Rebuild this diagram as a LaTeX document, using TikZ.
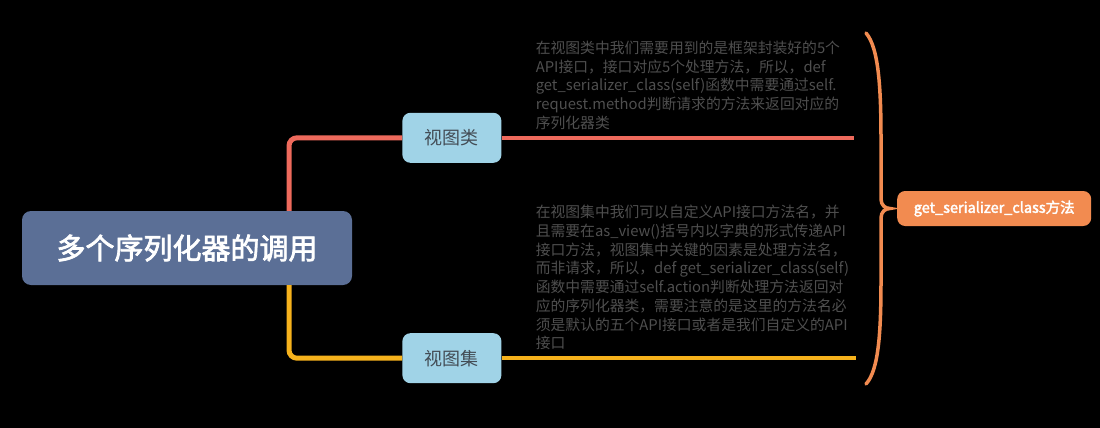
\documentclass[tikz,border=0pt]{standalone}
\usepackage{fontspec}
\setmainfont{Noto Sans CJK SC}[AutoFakeBold=2.5]
\usetikzlibrary{positioning}
\definecolor{rootblue}{HTML}{5B6F96}
\definecolor{leafblue}{HTML}{A0D3E7}
\definecolor{branchred}{HTML}{EE6A5C}
\definecolor{branchgold}{HTML}{F6B21C}
\definecolor{braceorange}{HTML}{F28B50}
\definecolor{notegray}{HTML}{4F4F4F}
\definecolor{topicgray}{HTML}{434C55}

\begin{document}
\begin{tikzpicture}[
x=1pt, y=-1pt,
root/.style={rectangle, rounded corners=9pt, fill=rootblue, text=white, font=\fontsize{29}{34}\selectfont\bfseries, minimum width=330pt, minimum height=74pt, inner sep=0pt},
topic/.style={rectangle, rounded corners=8pt, fill=leafblue, text=topicgray, font=\fontsize{18}{22}\selectfont, minimum width=99pt, minimum height=50pt, inner sep=0pt},
note/.style={align=left, text=notegray, inner sep=0pt, font=\fontsize{14.8}{18.7}\selectfont},
summary/.style={rectangle, rounded corners=8pt, fill=braceorange, text=white, font=\fontsize{14.5}{17}\selectfont\bfseries, minimum width=194pt, minimum height=35pt, inner sep=0pt},
redline/.style={branchred, line width=5pt, rounded corners=8pt},
goldline/.style={branchgold, line width=5pt, rounded corners=8pt},
bracket/.style={braceorange, line width=3.5pt, line cap=round}]

\useasboundingbox[fill=black] (0,0) rectangle (1100,428);

\node[root] (root) at (187,248) {多个序列化器的调用};
\node[topic] (cls) [above right=85pt and 50pt of root.east] {视图类};
\node[topic] (set) [below right=85pt and 50pt of root.east] {视图集};

\coordinate[right=352pt of cls.east] (e1);
\coordinate[right=354pt of set.east] (e2);

\node[note] (clsnote) [above right=8pt and 34pt of cls.east] {在视图类中我们需要用到的是框架封装好的5个\\API接口，接口对应5个处理方法，所以，def\\get\_serializer\_class(self)函数中需要通过self.\\request.method判断请求的方法来返回对应的\\序列化器类};
\node[note] (setnote) [above right=8pt and 34pt of set.east] {在视图集中我们可以自定义API接口方法名，并\\且需要在as\_view()括号内以字典的形式传递API\\接口方法，视图集中关键的因素是处理方法名，\\而非请求，所以，def get\_serializer\_class(self)\\函数中需要通过self.action判断处理方法返回对\\应的序列化器类，需要注意的是这里的方法名必\\须是默认的五个API接口或者是我们自定义的API\\接口};

\coordinate (bt) at (866,33);
\coordinate (bb) at (866,384);
\coordinate (tip) at (890,208.5);
\node[summary] (method) [right=7pt of tip] {get\_serializer\_class方法};

\draw[redline] ([xshift=102pt]root.north) |- (cls.west);
\draw[goldline] ([xshift=102pt]root.south) |- (set.west);
\draw[redline, line width=3.5pt] (cls.east) -- (e1);
\draw[goldline, line width=3.5pt] (set.east) -- (e2);

\draw[bracket] (bt) .. controls (879,48) and (881,90) .. (881,140) -- (881,199)
  .. controls (881,205) and (885,208.5) .. (tip)
  .. controls (885,208.5) and (881,212) .. (881,218) -- (881,280)
  .. controls (881,330) and (879,370) .. (bb);
\end{tikzpicture}
\end{document}
